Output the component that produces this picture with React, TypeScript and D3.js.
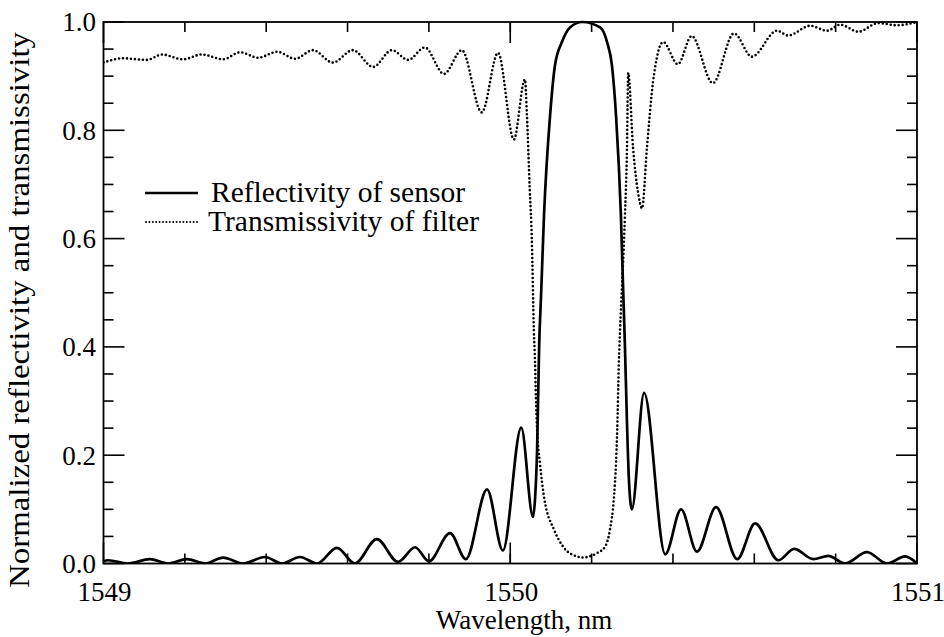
import React, { useEffect, useRef } from 'react';
import * as d3 from 'd3';

// [wavelength nm, normalized value]
const reflectivity: [number, number][] = [
  [1549.000, 0.004], [1549.011, 0.006], [1549.060, 0.0], [1549.114, 0.008], [1549.159, 0.0],
  [1549.205, 0.008], [1549.250, 0.0], [1549.294, 0.011], [1549.343, 0.0], [1549.397, 0.012],
  [1549.439, 0.0], [1549.483, 0.012], [1549.525, 0.0], [1549.574, 0.029], [1549.618, 0.0],
  [1549.672, 0.045], [1549.724, 0.003], [1549.766, 0.030], [1549.800, 0.004], [1549.852, 0.056],
  [1549.891, 0.008], [1549.943, 0.137], [1549.982, 0.024], [1550.027, 0.251], [1550.056, 0.086],
  [1550.061, 0.12], [1550.066, 0.21], [1550.071, 0.40], [1550.076, 0.5], [1550.083, 0.643],
  [1550.098, 0.828], [1550.110, 0.92], [1550.127, 0.963], [1550.147, 0.99], [1550.177, 1.0],
  [1550.221, 0.99], [1550.238, 0.963], [1550.250, 0.92], [1550.260, 0.828], [1550.272, 0.643],
  [1550.277, 0.52], [1550.282, 0.40], [1550.287, 0.26], [1550.292, 0.15], [1550.299, 0.10],
  [1550.329, 0.315], [1550.381, 0.017], [1550.420, 0.10], [1550.459, 0.022],
  [1550.506, 0.104], [1550.558, 0.008], [1550.602, 0.074], [1550.659, 0.006], [1550.698, 0.027],
  [1550.745, 0.008], [1550.782, 0.014], [1550.823, 0.0], [1550.877, 0.021], [1550.926, 0.0],
  [1550.971, 0.013], [1551.000, 0.0],
];

const transmissivity: [number, number][] = [
  [1549.000, 0.925], [1549.048, 0.933], [1549.107, 0.930], [1549.144, 0.940], [1549.195, 0.931],
  [1549.242, 0.940], [1549.294, 0.931], [1549.336, 0.944], [1549.380, 0.934], [1549.427, 0.945],
  [1549.471, 0.932], [1549.515, 0.948], [1549.564, 0.925], [1549.613, 0.948], [1549.663, 0.917],
  [1549.709, 0.948], [1549.749, 0.930], [1549.790, 0.953], [1549.837, 0.904], [1549.881, 0.948],
  [1549.930, 0.833], [1549.970, 0.943], [1550.009, 0.783], [1550.036, 0.894], [1550.041, 0.828],
  [1550.048, 0.69], [1550.053, 0.60], [1550.058, 0.431], [1550.061, 0.370], [1550.063, 0.308],
  [1550.066, 0.247], [1550.073, 0.185], [1550.083, 0.123], [1550.108, 0.062], [1550.130, 0.031],
  [1550.164, 0.013], [1550.176, 0.011], [1550.213, 0.019], [1550.233, 0.031], [1550.245, 0.062],
  [1550.255, 0.123], [1550.260, 0.185], [1550.263, 0.247], [1550.267, 0.370], [1550.270, 0.431],
  [1550.282, 0.643], [1550.287, 0.767], [1550.290, 0.906], [1550.302, 0.767], [1550.314, 0.686],
  [1550.324, 0.656], [1550.336, 0.767], [1550.351, 0.889], [1550.376, 0.963], [1550.412, 0.922],
  [1550.446, 0.974], [1550.498, 0.887], [1550.550, 0.979], [1550.594, 0.936], [1550.656, 0.984],
  [1550.683, 0.975], [1550.737, 0.993], [1550.779, 0.984], [1550.811, 0.995], [1550.856, 0.982],
  [1550.904, 0.998], [1550.951, 0.994], [1551.000, 1.0],
];

const xMajor = [1549, 1550, 1551];
const yMajor = [0, 0.2, 0.4, 0.6, 0.8, 1.0];
const legendNames = ['Reflectivity of sensor', 'Transmissivity of filter'];
const xTitle = 'Wavelength, nm';
const yTitle = 'Normalized reflectivity and transmissivity';

const FONT = '"Liberation Serif", "Times New Roman", serif';

export default function App() {
  const ref = useRef<SVGSVGElement>(null);

  useEffect(() => {
    const width = 944, height = 637;
    const m = { left: 103.5, right: 917, top: 22, bottom: 563.5 };

    const svg = d3.select(ref.current);
    svg.selectAll('*').remove();

    const x = d3.scaleLinear().domain([1549, 1551]).range([m.left, m.right]);
    const y = d3.scaleLinear().domain([0, 1]).range([m.bottom, m.top]);

    svg.append('rect').attr('width', width).attr('height', height).attr('fill', 'white');

    svg.append('clipPath').attr('id', 'plot-clip')
      .append('rect')
      .attr('x', m.left).attr('y', m.top - 2)
      .attr('width', m.right - m.left).attr('height', m.bottom - m.top + 2);

    const line = d3.line<[number, number]>()
      .x(d => x(d[0]))
      .y(d => y(d[1]))
      .curve(d3.curveMonotoneX);

    const plot = svg.append('g').attr('clip-path', 'url(#plot-clip)');

    plot.append('path')
      .attr('d', line(transmissivity))
      .attr('fill', 'none')
      .attr('stroke', '#000')
      .attr('stroke-width', 2.6)
      .attr('stroke-linecap', 'round')
      .attr('stroke-dasharray', '0 4');

    plot.append('path')
      .attr('d', line(reflectivity))
      .attr('fill', 'none')
      .attr('stroke', '#000')
      .attr('stroke-width', 2.7)
      .attr('stroke-linejoin', 'round');

    // ticks (inward, mirrored on all sides)
    const ticks = svg.append('g').attr('stroke', '#000').attr('stroke-width', 1.6);
    const xMinor = d3.range(1549.2, 1551, 0.2);
    xMinor.forEach(v => {
      ticks.append('line').attr('x1', x(v)).attr('x2', x(v)).attr('y1', m.bottom).attr('y2', m.bottom - 10);
      ticks.append('line').attr('x1', x(v)).attr('x2', x(v)).attr('y1', m.top).attr('y2', m.top + 10);
    });
    xMajor.forEach(v => {
      ticks.append('line').attr('x1', x(v)).attr('x2', x(v)).attr('y1', m.bottom).attr('y2', m.bottom - 21);
      ticks.append('line').attr('x1', x(v)).attr('x2', x(v)).attr('y1', m.top).attr('y2', m.top + 21);
    });
    const yMinor = d3.range(0.05, 1, 0.05).filter(v => Math.abs(v / 0.2 - Math.round(v / 0.2)) > 1e-6);
    yMinor.forEach(v => {
      ticks.append('line').attr('x1', m.left).attr('x2', m.left + 10).attr('y1', y(v)).attr('y2', y(v));
      ticks.append('line').attr('x1', m.right).attr('x2', m.right - 10).attr('y1', y(v)).attr('y2', y(v));
    });
    yMajor.forEach(v => {
      ticks.append('line').attr('x1', m.left).attr('x2', m.left + 21).attr('y1', y(v)).attr('y2', y(v));
      ticks.append('line').attr('x1', m.right).attr('x2', m.right - 21).attr('y1', y(v)).attr('y2', y(v));
    });

    svg.append('rect')
      .attr('x', m.left).attr('y', m.top)
      .attr('width', m.right - m.left).attr('height', m.bottom - m.top)
      .attr('fill', 'none').attr('stroke', '#000').attr('stroke-width', 1.8);

    const text = svg.append('g').attr('font-family', FONT).attr('font-size', 27).attr('fill', '#000');

    yMajor.forEach(v => {
      text.append('text')
        .attr('x', 96).attr('y', y(v)).attr('dy', '0.35em')
        .attr('text-anchor', 'end')
        .text(d3.format('.1f')(v));
    });
    xMajor.forEach(v => {
      text.append('text')
        .attr('x', x(v) + 1).attr('y', 601)
        .attr('text-anchor', 'middle')
        .text(String(v));
    });
    text.append('text')
      .attr('x', 524).attr('y', 629)
      .attr('text-anchor', 'middle')
      .text(xTitle);
    text.append('text')
      .attr('transform', 'translate(29,310) rotate(-90)')
      .attr('text-anchor', 'middle')
      .attr('font-size', 29.5)
      .attr('textLength', 556)
      .attr('lengthAdjust', 'spacingAndGlyphs')
      .text(yTitle);

    // legend
    const lg = svg.append('g');
    lg.append('line').attr('x1', 145).attr('x2', 198).attr('y1', 193).attr('y2', 193)
      .attr('stroke', '#000').attr('stroke-width', 2.7);
    lg.append('line').attr('x1', 146).attr('x2', 198).attr('y1', 222).attr('y2', 222)
      .attr('stroke', '#000').attr('stroke-width', 2).attr('stroke-linecap', 'round')
      .attr('stroke-dasharray', '0 3.4');
    lg.append('text').attr('x', 211).attr('y', 202)
      .attr('font-family', FONT).attr('font-size', 29.5).text(legendNames[0]);
    lg.append('text').attr('x', 208).attr('y', 231)
      .attr('font-family', FONT).attr('font-size', 29.5).text(legendNames[1]);
  }, []);

  return (
    <svg
      ref={ref}
      width={944}
      height={637}
      style={{ position: 'absolute', left: 0, top: 0, display: 'block' }}
    />
  );
}
